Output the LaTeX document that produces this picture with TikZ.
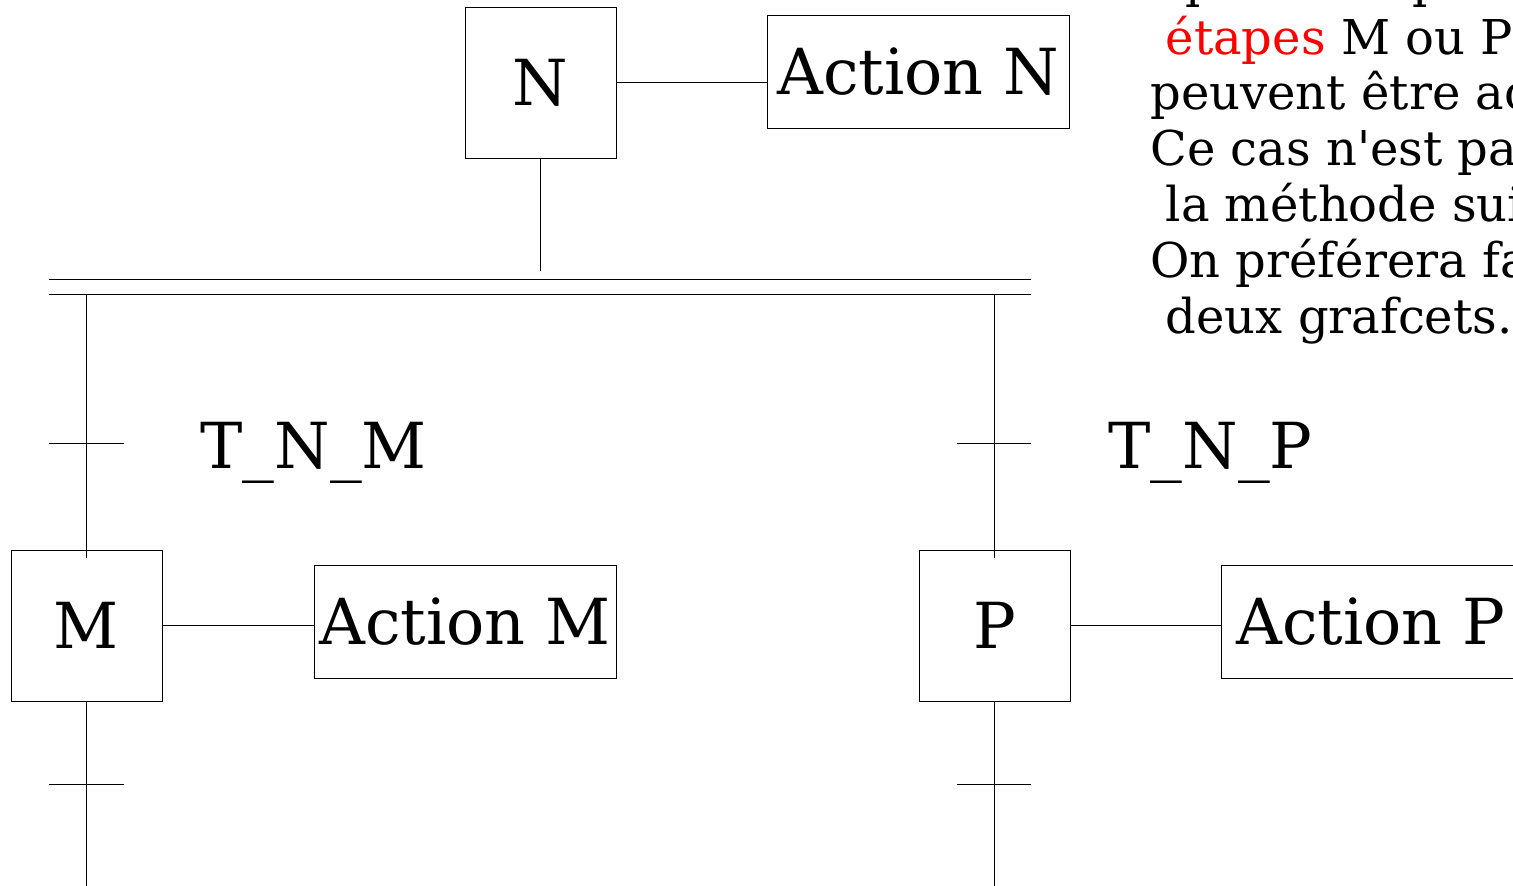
\documentclass[tikz,border=0pt]{standalone}
\usepackage{fontspec}
\setmainfont{DejaVu Serif}
\newcommand{\bigfnt}{\fontsize{63.5}{76}\selectfont}
\newcommand{\notefnt}{\fontsize{48}{56}\selectfont}
\begin{document}
\begin{tikzpicture}[x=1pt,y=-1pt,line width=0.8pt,
  stepbox/.style={draw,minimum width=151pt,minimum height=151pt,inner sep=0pt,font=\bigfnt},
  actbox/.style={draw,minimum width=302pt,minimum height=113pt,inner sep=0pt,font=\bigfnt},
  lbl/.style={anchor=base west,inner sep=0pt,font=\bigfnt},
  note/.style={anchor=base west,inner sep=0pt,font=\notefnt}]
\useasboundingbox (0,0) rectangle (1513,886);
\clip (0,0) rectangle (1513,886);
% step N
\node[stepbox] (N) at (540.5,82.5) {N};
\node[actbox] (AN) at (918.5,71.5) {Action N};
\draw (N.east) -- (N.east -| AN.west);
\coordinate (Nj) at (540.5,271);
\draw (N.south) -- (Nj);
% double line
\coordinate (d1l) at (49,279); \coordinate (d1r) at (1031,279);
\coordinate (d2l) at (49,294); \coordinate (d2r) at (1031,294);
\draw (d1l) -- (d1r);
\draw (d2l) -- (d2r);
% left branch
\coordinate (bl) at (86.5,294);
\node[stepbox] (M) at (86.5,625.5) {M};
\coordinate (Min) at (86.5,558);
\draw (bl) -- (Min);
\coordinate (tl1a) at (49,443); \coordinate (tl1b) at (124,443);
\draw (tl1a) -- (tl1b);
\node[lbl] (TNM) at (200,468) {T\_N\_M};
\node[actbox] (AM) at (465,621.5) {Action M};
\draw (M.east) -- (M.east -| AM.west);
\coordinate (Mend) at (86.5,886);
\draw (M.south) -- (Mend);
\coordinate (tl2a) at (49,784); \coordinate (tl2b) at (124,784);
\draw (tl2a) -- (tl2b);
% right branch
\coordinate (br) at (994.5,294);
\node[stepbox] (P) at (994.5,625.5) {P};
\coordinate (Pin) at (994.5,558);
\draw (br) -- (Pin);
\coordinate (tr1a) at (957,443); \coordinate (tr1b) at (1031,443);
\draw (tr1a) -- (tr1b);
\node[lbl] (TNP) at (1108,468) {T\_N\_P};
\node[actbox,minimum width=300pt] (AP) at (1371,621.5) {Action P};
\draw (P.east) -- (P.east -| AP.west);
\coordinate (Pend) at (994.5,886);
\draw (P.south) -- (Pend);
\coordinate (tr2a) at (957,784); \coordinate (tr2b) at (1031,784);
\draw (tr2a) -- (tr2b);
% note
\node[note] (n0) at (1150,-2) {Après une pause les};
\node[note] (n1) at (1150,54) {\ \textcolor{red}{étapes} M ou P};
\node[note] (n2) at (1150,109.8) {peuvent être actives};
\node[note] (n3) at (1150,165.6) {Ce cas n\textquotesingle est pas traité par};
\node[note] (n4) at (1150,221.4) {\ la méthode suivante.};
\node[note] (n5) at (1150,277.2) {On préférera faire};
\node[note] (n6) at (1150,333) {\ deux grafcets.};
\end{tikzpicture}
\end{document}
